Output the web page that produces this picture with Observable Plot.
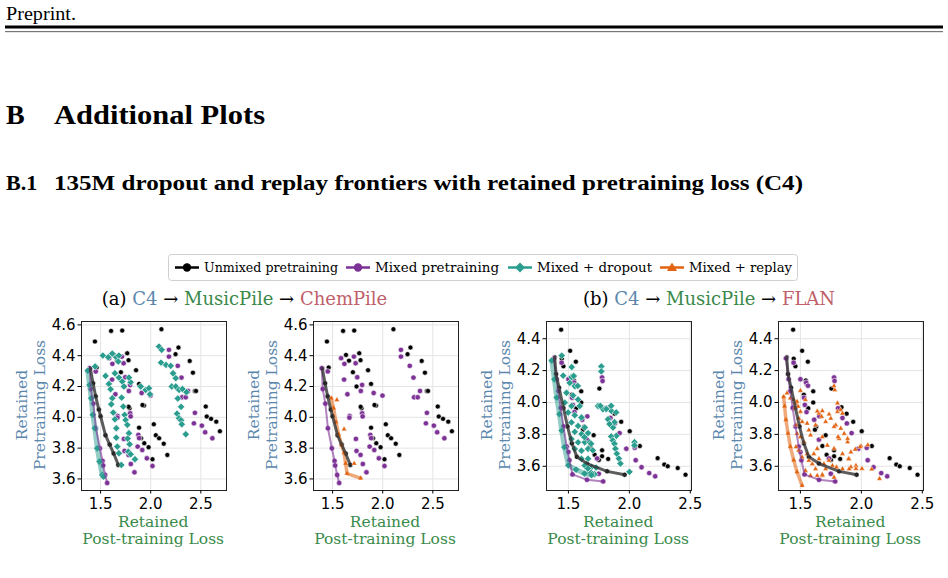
<!DOCTYPE html>
<html>
<head>
<meta charset="utf-8">
<script src="https://cdn.jsdelivr.net/npm/d3@7"></script>
<script src="https://cdn.jsdelivr.net/npm/@observablehq/plot@0.6"></script>
<style>
  html, body { margin: 0; padding: 0; background: #fff; }
  #page { position: relative; width: 948px; height: 578px; overflow: hidden; background: #fff; }
  #page > svg.overlay { position: absolute; left: 0; top: 0; }
  .panel { position: absolute; }
</style>
</head>
<body>
<div id="page"></div>
<script>
// ---------- series names, ticks, colours ----------
const seriesNames = ["Unmixed pretraining", "Mixed pretraining", "Mixed + dropout", "Mixed + replay"];
const xTicks = [1.5, 2.0, 2.5];
const yTicksChem = [3.6, 3.8, 4.0, 4.2, 4.4, 4.6];
const yTicksFlan = [3.6, 3.8, 4.0, 4.2, 4.4];
const colUnmixed = "#000000";
const colMixed = "#7d3296";
const colDropout = "#2a9d8f";
const colReplay = "#e2620f";
const colPre = "#5b87ad";   // pretraining data (C4)
const colPost = "#3a8a4a";  // post-training data (MusicPile)
const colThird = "#c0606b"; // third stage (ChemPile / FLAN)

// ---------- (a) C4 -> MusicPile -> ChemPile : [post-training loss, pretraining loss] ----------
const chemUnmixed = [
  [1.444,4.492],[1.605,4.561],[1.716,4.563],[2.107,4.572],[1.766,4.416],[1.634,4.405],[1.664,4.368],
  [1.779,4.371],[2.277,4.453],[2.248,4.410],[2.389,4.366],[2.421,4.290],[1.703,4.293],[1.854,4.306],
  [2.440,4.171],[2.452,4.171],[1.884,4.217],[1.739,4.200],[1.461,4.323],[1.933,4.076],[1.918,4.080],
  [1.789,4.059],[1.780,4.068],[2.549,4.070],[2.559,4.005],[2.602,3.990],[2.654,3.972],[2.690,3.910],
  [2.031,3.955],[1.884,3.933],[2.051,3.884],[2.084,3.864],[2.130,3.829],[2.166,3.756],[1.903,3.864],
  [1.936,3.832],[1.979,3.806],[2.018,3.728]
];
const chemUnmixedFrontier = [
  [1.398,4.319],[1.425,4.221],[1.451,4.137],[1.483,4.050],[1.500,4.007],[1.549,3.884],
  [1.591,3.823],[1.631,3.765],[1.677,3.691]
];
const chemMixed = [
  [1.585,4.384],[1.618,4.347],[1.713,4.394],[1.730,4.351],[1.615,4.245],[1.746,4.260],[1.795,4.210],
  [1.782,4.171],[1.648,4.150],[1.910,4.158],[1.998,4.141],[1.670,4.009],[1.668,3.998],[1.795,4.026],
  [1.800,4.006],[1.733,3.860],[1.877,3.886],[1.885,3.865],[1.870,3.810],[1.916,3.788],[1.739,3.782],
  [1.779,3.756],[1.802,3.697],[1.962,3.734],[2.018,3.684],[1.838,3.643],[2.182,4.438],[2.182,4.394],
  [2.270,4.334],[2.307,4.258],[2.372,4.171],[2.313,4.130],[2.349,4.130],[2.441,4.029],[2.431,3.961],
  [2.510,3.946],[2.543,3.903],[2.615,3.864],[1.452,4.298]
];
const chemMixedFrontier = [
  [1.392,4.319],[1.402,4.184],[1.428,4.089],[1.454,3.929],[1.493,3.799],[1.520,3.717],
  [1.526,3.687],[1.546,3.626],[1.566,3.574]
];
const chemDropout = [
  [1.523,4.401],[1.577,4.390],[1.617,4.414],[1.657,4.390],[1.683,4.401],[1.677,4.362],[1.446,4.330],
  [1.550,4.269],[1.583,4.217],[1.600,4.182],[1.617,4.124],[1.607,4.085],[1.627,4.031],[1.643,3.987],
  [1.657,3.929],[1.657,3.868],[1.667,3.810],[1.683,3.767],[1.707,3.691],
  [1.643,4.286],[1.683,4.258],[1.717,4.232],[1.733,4.200],[1.710,4.128],[1.727,4.070],[1.740,4.016],
  [1.750,3.983],[1.767,3.951],[1.783,3.897],[1.790,3.825],[1.777,3.777],[1.800,3.760],[1.843,3.728],
  [1.770,3.862],[1.800,4.228],[1.783,4.258],
  [1.900,4.200],[1.950,4.178],[1.983,4.189],[1.993,4.150],
  [2.083,4.459],[2.110,4.438],[2.103,4.355],[2.153,4.340],[2.200,4.334],[2.223,4.286],[2.250,4.254],
  [2.210,4.200],[2.250,4.200],[2.283,4.178],[2.317,4.184],[2.357,4.163],[2.270,4.122],[2.303,4.068],
  [2.263,4.024],[2.283,3.994],[2.303,3.981],[2.310,3.955],[2.350,3.890]
];
const chemDropoutFrontier = [
  [1.373,4.303],[1.390,4.210],[1.407,4.124],[1.423,4.016],[1.443,3.929],[1.467,3.799],
  [1.490,3.713],[1.517,3.626],[1.530,3.615]
];
const chemReplay = [[1.543,4.113],[1.615,3.923],[1.716,3.700]];
const chemReplayFrontier = [
  [1.487,4.124],[1.510,4.060],[1.535,3.970],[1.560,3.890],[1.590,3.820],[1.615,3.770],
  [1.630,3.700],[1.645,3.635],[1.780,3.605]
];

// ---------- (b) C4 -> MusicPile -> FLAN ----------
const flanUnmixed = [
  [1.440,4.457],[1.514,4.324],[1.561,4.256],[1.445,4.275],[1.459,4.227],[1.544,4.138],[1.550,4.116],
  [1.605,4.070],[1.528,4.049],[1.605,4.000],[1.564,3.964],[1.754,4.087],[1.837,3.970],[1.879,3.930],
  [1.933,3.879],[2.003,3.820],[1.630,3.848],[1.619,3.829],[1.707,3.795],[2.086,3.727],[1.680,3.727],
  [1.715,3.672],[1.776,3.663],[1.826,3.646],[2.232,3.651],[2.287,3.611],[2.315,3.600],[2.397,3.589],
  [2.461,3.547],[1.776,3.700],[1.750,3.640]
];
const flanUnmixedFrontier = [
  [1.387,4.284],[1.398,4.178],[1.423,4.093],[1.459,3.966],[1.492,3.850],[1.528,3.744],
  [1.569,3.659],[1.652,3.617],[1.818,3.568],[1.961,3.547]
];
const flanMixed = [
  [1.444,4.250],[1.500,4.146],[1.547,4.125],[1.562,4.105],[1.776,4.157],[1.780,4.135],[1.530,4.030],
  [1.536,3.985],[1.550,3.940],[1.809,3.964],[1.613,3.892],[1.655,3.913],[1.845,3.903],[1.881,3.869],
  [1.652,3.767],[1.920,3.808],[1.975,3.710],[2.044,3.716],[2.052,3.638],[2.100,3.594],[2.163,3.557],
  [2.212,3.537],[1.500,3.690],[1.735,3.649],[1.749,3.553]
];
const flanMixedFrontier = [
  [1.381,4.277],[1.403,4.146],[1.417,4.072],[1.436,3.966],[1.459,3.850],[1.486,3.723],
  [1.508,3.638],[1.533,3.549],[1.652,3.515],[1.785,3.505]
];
const flanDropout = [
  [1.457,4.168],[1.525,4.160],[1.511,4.123],[1.552,4.102],[1.484,4.061],[1.538,4.044],[1.579,4.019],
  [1.470,3.999],[1.525,3.978],[1.593,3.978],[1.498,3.937],[1.552,3.920],[1.607,3.906],[1.525,3.875],
  [1.579,3.853],[1.634,3.843],[1.552,3.816],[1.607,3.802],[1.661,3.808],[1.525,3.771],[1.579,3.750],
  [1.634,3.750],[1.675,3.750],[1.552,3.709],[1.607,3.698],[1.661,3.709],[1.607,3.647],[1.661,3.647],
  [1.634,3.605],[1.689,3.595],[1.743,3.978],[1.784,3.957],[1.770,4.226],[1.770,4.195],[1.852,3.947],
  [1.825,3.895],[1.866,3.843],[1.893,3.791],
  [1.445,4.294],[1.527,4.222],[1.544,4.166],[1.577,4.104],[1.632,3.782],[1.659,3.586],[1.714,3.550],
  [1.686,3.559],[1.727,3.592],[1.762,3.979],[1.851,3.979],[1.810,3.959],[1.878,3.876],[1.837,3.865],
  [1.851,3.787],[1.864,3.762],[1.878,3.741],[1.886,3.710],[1.897,3.679],[1.914,3.648],[1.927,3.617],
  [2.001,3.565],[2.042,3.751],[2.042,3.731],[1.892,3.938],[1.700,3.700],[1.686,3.741]
];
const flanDropoutFrontier = [
  [1.363,4.263],[1.385,4.145],[1.404,4.031],[1.426,3.927],[1.445,3.824],[1.467,3.720],
  [1.500,3.606],[1.563,3.579],[1.632,3.554],[1.690,3.545]
];
const flanReplay = [
  [1.390,4.059],[1.417,4.027],[1.444,4.017],[1.464,3.996],[1.481,3.975],[1.453,3.964],[1.500,3.943],
  [1.486,3.900],[1.514,3.879],[1.464,3.858],[1.472,3.805],[1.500,3.784],[1.528,3.752],[1.464,3.721],
  [1.486,3.700],[1.514,3.657],[1.555,3.678],[1.569,3.636],[1.597,3.615],[1.624,3.583],[1.541,3.573],
  [1.583,3.541],[1.638,3.541],[1.680,3.541],[1.610,3.678],[1.638,3.710],[1.652,3.646],[1.693,3.615],
  [1.707,3.583],[1.734,3.636],[1.763,3.604],[1.796,3.594],[1.624,3.858],[1.652,3.932],[1.680,3.947],
  [1.707,3.879],[1.749,3.900],[1.790,3.858],[1.804,3.943],[1.804,3.996],[1.831,3.954],[1.845,3.932],
  [1.776,4.104],[1.782,4.078],[1.831,3.837],[1.859,3.805],[1.818,3.773],[1.887,3.752],[1.914,3.689],
  [1.950,3.706],[1.900,3.646],[1.956,3.604],[1.845,3.678],[1.776,3.710],[1.721,3.731],[1.680,3.784],
  [1.583,3.795],[1.569,3.827],[1.555,3.869],[1.541,4.017],[1.997,3.727],[2.053,3.733],[2.005,3.585],
  [2.085,3.581],[2.149,3.522],[1.956,3.585],[1.914,3.595],[1.638,3.945],[1.735,3.926],[1.674,3.911],
  [1.776,3.848],[1.809,3.784],[1.887,3.773],[1.989,3.721],[1.895,3.646],[1.845,3.583],[1.900,3.583],
  [1.680,3.547],[1.776,3.530],[1.500,4.074],[1.472,4.006]
];
const flanReplayFrontier = [
  [1.362,4.036],[1.370,3.977],[1.381,3.892],[1.398,3.807],[1.417,3.723],[1.445,3.638],
  [1.472,3.564],[1.514,3.479]
];

// ---------- mark styles per series ----------
const px = d => d[0], py = d => d[1];
const styles = {
  unmixed: {dot: {r: 2.5, fill: colUnmixed, stroke: "#fff", strokeWidth: 0.6},
            line: {stroke: "#333", strokeWidth: 3, strokeOpacity: 0.8}},
  mixed:   {dot: {r: 2.7, fill: colMixed, stroke: "#fff", strokeWidth: 0.6},
            line: {stroke: colMixed, strokeWidth: 2, strokeOpacity: 0.6}},
  dropout: {dot: {symbol: "diamond2", r: 3.3, fill: colDropout, stroke: "#fff", strokeWidth: 0.6},
            line: {stroke: colDropout, strokeWidth: 5, strokeOpacity: 0.5}},
  replay:  {dot: {symbol: "triangle", r: 2.0, fill: colReplay, stroke: "#fff", strokeWidth: 0.4},
            line: {stroke: colReplay, strokeWidth: 3.5, strokeOpacity: 0.55}}
};

const page = d3.select("#page");

// ---------- one scatter panel ----------
function panel({frameLeft, frameTop, xDomain, yDomain, yTicks, series}) {
  const fw = 145, fh = 169, mL = 45, mR = 6, mT = 6, mB = 26;
  const pointMarks = series.map(s =>
    Plot.dot([...s.points, ...s.frontier], {x: px, y: py, ...styles[s.kind].dot}));
  const lineOrder = ["dropout", "replay", "mixed", "unmixed"];
  const lineMarks = lineOrder
    .map(k => series.find(s => s.kind === k))
    .filter(Boolean)
    .map(s => Plot.line(s.frontier, {x: px, y: py, strokeLinejoin: "round", strokeLinecap: "round", ...styles[s.kind].line}));
  const chart = Plot.plot({
    width: fw + mL + mR, height: fh + mT + mB,
    marginLeft: mL, marginRight: mR, marginTop: mT, marginBottom: mB,
    style: {fontFamily: "'DejaVu Sans', sans-serif", fontSize: "15px", color: "#000", background: "transparent", overflow: "visible"},
    x: {domain: xDomain},
    y: {domain: yDomain},
    marks: [
      Plot.gridX({ticks: xTicks, stroke: "#e4e4e4", strokeOpacity: 1, strokeWidth: 1}),
      Plot.gridY({ticks: yTicks, stroke: "#e4e4e4", strokeOpacity: 1, strokeWidth: 1}),
      ...pointMarks,
      ...lineMarks,
      Plot.frame({stroke: "#222", strokeWidth: 1}),
      Plot.axisX({ticks: xTicks, tickSize: 3.5, tickPadding: 4, tickFormat: d3.format(".1f"), label: null, fontSize: 15}),
      Plot.axisY({ticks: yTicks, tickSize: 3.5, tickPadding: 2.5, tickFormat: d3.format(".1f"), label: null, fontSize: 15})
    ]
  });
  const div = page.append("div").attr("class", "panel")
    .style("left", (frameLeft - mL) + "px").style("top", (frameTop - mT) + "px");
  div.node().appendChild(chart);
}

const domA = {xDomain: [1.31, 2.756], yDomain: [3.525, 4.622], yTicks: yTicksChem};
const domB = {xDomain: [1.32, 2.51], yDomain: [3.448, 4.508], yTicks: yTicksFlan};

panel({frameLeft: 80.7, frameTop: 321.3, ...domA, series: [
  {kind: "unmixed", points: chemUnmixed, frontier: chemUnmixedFrontier},
  {kind: "mixed", points: chemMixed, frontier: chemMixedFrontier},
  {kind: "dropout", points: chemDropout, frontier: chemDropoutFrontier}]});
panel({frameLeft: 312.5, frameTop: 321.3, ...domA, series: [
  {kind: "unmixed", points: chemUnmixed, frontier: chemUnmixedFrontier},
  {kind: "mixed", points: chemMixed, frontier: chemMixedFrontier},
  {kind: "replay", points: chemReplay, frontier: chemReplayFrontier}]});
panel({frameLeft: 545.7, frameTop: 321.3, ...domB, series: [
  {kind: "unmixed", points: flanUnmixed, frontier: flanUnmixedFrontier},
  {kind: "mixed", points: flanMixed, frontier: flanMixedFrontier},
  {kind: "dropout", points: flanDropout, frontier: flanDropoutFrontier}]});
panel({frameLeft: 777.7, frameTop: 321.3, ...domB, series: [
  {kind: "unmixed", points: flanUnmixed, frontier: flanUnmixedFrontier},
  {kind: "mixed", points: flanMixed, frontier: flanMixedFrontier},
  {kind: "replay", points: flanReplay, frontier: flanReplayFrontier}]});

// ---------- page text, legend and axis titles ----------
const svg = page.append("svg").attr("class", "overlay").attr("width", 948).attr("height", 578);
const serifDoc = "'Liberation Serif', 'Times New Roman', serif";
const serifFig = "'DejaVu Serif', serif";

svg.append("text").attr("x", 6).attr("y", 19.5).attr("font-family", serifDoc).attr("font-size", 18)
  .attr("textLength", 70).attr("lengthAdjust", "spacingAndGlyphs").text("Preprint.");
svg.append("rect").attr("x", 5).attr("y", 25.5).attr("width", 938).attr("height", 3).attr("fill", "#000");
svg.append("rect").attr("x", 5).attr("y", 31).attr("width", 938).attr("height", 1.2).attr("fill", "#777");

svg.append("text").attr("x", 6).attr("y", 124).attr("font-family", serifDoc).attr("font-weight", "bold")
  .attr("font-size", 28).text("B");
svg.append("text").attr("x", 54).attr("y", 124).attr("font-family", serifDoc).attr("font-weight", "bold")
  .attr("font-size", 28).attr("textLength", 211).attr("lengthAdjust", "spacingAndGlyphs").text("Additional Plots");
svg.append("text").attr("x", 6).attr("y", 190).attr("font-family", serifDoc).attr("font-weight", "bold")
  .attr("font-size", 22).text("B.1");
svg.append("text").attr("x", 54).attr("y", 190).attr("font-family", serifDoc).attr("font-weight", "bold")
  .attr("font-size", 22).attr("textLength", 749).attr("lengthAdjust", "spacingAndGlyphs")
  .text("135M dropout and replay frontiers with retained pretraining loss (C4)");

// legend
svg.append("rect").attr("x", 168.5).attr("y", 254.5).attr("width", 629).attr("height", 26).attr("rx", 3)
  .attr("fill", "#fff").attr("stroke", "#d0d0d0");
const legendItems = [
  {name: seriesNames[0], color: colUnmixed, shape: "circle", x: 175, w: 134},
  {name: seriesNames[1], color: colMixed, shape: "circle", x: 346, w: 124},
  {name: seriesNames[2], color: colDropout, shape: "diamond", x: 508, w: 115},
  {name: seriesNames[3], color: colReplay, shape: "triangle", x: 660, w: 103}
];
for (const it of legendItems) {
  const g = svg.append("g");
  const ly = 267.5, mx = it.x + 12;
  g.append("line").attr("x1", it.x).attr("x2", it.x + 24).attr("y1", ly).attr("y2", ly)
    .attr("stroke", it.color).attr("stroke-width", 2.5);
  if (it.shape === "circle") g.append("circle").attr("cx", mx).attr("cy", ly).attr("r", 4.2).attr("fill", it.color);
  if (it.shape === "diamond") g.append("path").attr("d", `M${mx},${ly - 5}L${mx + 5},${ly}L${mx},${ly + 5}L${mx - 5},${ly}Z`).attr("fill", it.color);
  if (it.shape === "triangle") g.append("path").attr("d", `M${mx},${ly - 5}L${mx + 5},${ly + 3.5}L${mx - 5},${ly + 3.5}Z`).attr("fill", it.color);
  g.append("text").attr("x", it.x + 29).attr("y", 272).attr("font-family", serifFig).attr("font-size", 13)
    .attr("textLength", it.w).attr("lengthAdjust", "spacingAndGlyphs").attr("fill", "#000").text(it.name);
}

// panel-pair titles
function pairTitle(cx, parts) {
  const t = svg.append("text").attr("x", cx).attr("y", 305).attr("text-anchor", "middle")
    .attr("font-family", serifFig).attr("font-size", 18);
  for (const [s, c] of parts) t.append("tspan").attr("fill", c).text(s);
}
pairTitle(244.5, [["(a) ", "#000"], ["C4", colPre], [" → ", "#000"], ["MusicPile", colPost], [" → ", "#000"], ["ChemPile", colThird]]);
pairTitle(709, [["(b) ", "#000"], ["C4", colPre], [" → ", "#000"], ["MusicPile", colPost], [" → ", "#000"], ["FLAN", colThird]]);

// axis titles
for (const fl of [80.7, 312.5, 545.7, 777.7]) {
  const cx = fl - 49.5, cy = 405;
  const gy = svg.append("g").attr("transform", `translate(${cx},${cy}) rotate(-90)`)
    .attr("font-family", serifFig).attr("font-size", 15.5).attr("fill", colPre).attr("text-anchor", "middle");
  gy.append("text").attr("x", 0).attr("y", -4).text("Retained");
  gy.append("text").attr("x", 0).attr("y", 13.5).text("Pretraining Loss");
  const gx = svg.append("g").attr("font-family", serifFig).attr("font-size", 15.5).attr("fill", colPost)
    .attr("text-anchor", "middle");
  gx.append("text").attr("x", fl + 72.5).attr("y", 526.5).text("Retained");
  gx.append("text").attr("x", fl + 72.5).attr("y", 543.5).text("Post-training Loss");
}
</script>
</body>
</html>
